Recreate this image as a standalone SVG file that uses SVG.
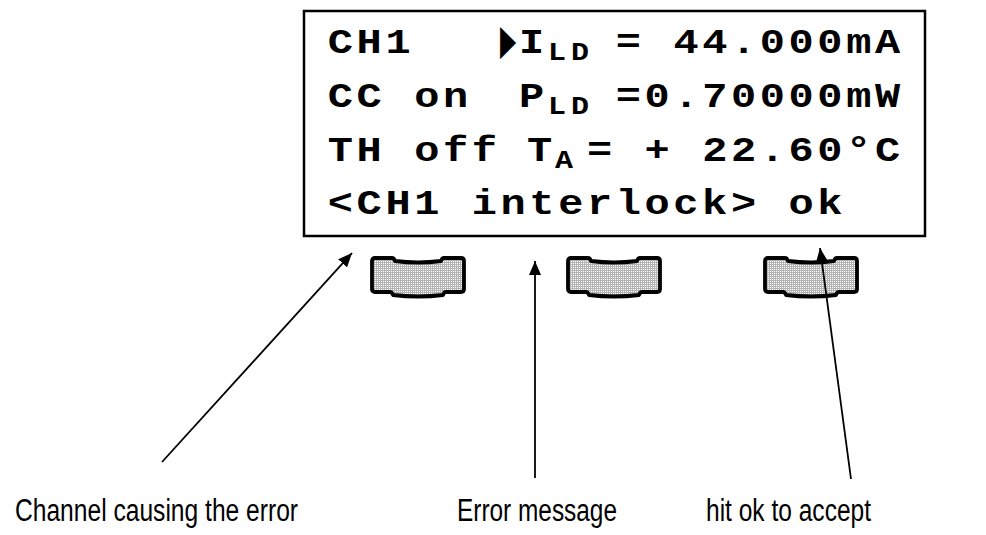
<svg xmlns="http://www.w3.org/2000/svg" width="986" height="535" viewBox="0 0 986 535">
<style>
.lcd{font-family:"Courier New","Liberation Mono",monospace;font-weight:bold;font-size:42px;letter-spacing:3.6px;fill:#000}
.sub{font-family:"Courier New","Liberation Mono",monospace;font-weight:bold;font-size:30px;letter-spacing:5px;fill:#000}
.lbl{font-family:"Liberation Sans",Arial,sans-serif;font-size:31px;fill:#000}
.conn{stroke:#000;stroke-width:1.8;fill:none}
.btn{fill:url(#dots);stroke:#000;stroke-width:3.8;stroke-linejoin:round}
</style>
<defs>
<pattern id="dots" width="2" height="2" patternUnits="userSpaceOnUse">
<rect width="2" height="2" fill="#b4b4b4"/>
<rect x="1" y="1" width="1" height="1" fill="#ffffff"/>
</pattern>
<path id="btnShape" d="M3,0 H20 Q22,0 23,3 Q46,6 69,3 Q70,0 72,0 H89 Q92,0 92,3 V31 Q92,34 89,34 H74 Q72,34 71,37 Q46,40 21,37 Q20,34 18,34 H3 Q0,34 0,31 V3 Q0,0 3,0 Z"/>
<marker id="ah" viewBox="0 0 14 12" refX="14" refY="6" markerWidth="14" markerHeight="12" markerUnits="userSpaceOnUse" orient="auto">
<path d="M0,0 L14,6 L0,12 Z" fill="#000"/>
</marker>
</defs>

<g id="display">
<rect x="304" y="11" width="621" height="225" fill="#fff" stroke="#000" stroke-width="2.5"/>
<g transform="translate(0,53) scale(1,0.83)">
<text class="lcd" x="327.8" y="0">CH1</text>
<text class="lcd" x="519" y="0">I</text>
<text class="sub" x="548" y="8">LD</text>
<text class="lcd" x="615.8" y="0" xml:space="preserve">= 44.000mA</text>
</g>
<text transform="translate(500,54) scale(0.5,1)" font-family="DejaVu Sans,sans-serif" font-size="42">▶</text>

<g transform="translate(0,107) scale(1,0.83)">
<text class="lcd" x="327.8" y="0">CC on</text>
<text class="lcd" x="519" y="0">P</text>
<text class="sub" x="548" y="8">LD</text>
<text class="lcd" x="615.8" y="0">=0.70000mW</text>
</g>

<g transform="translate(0,161) scale(1,0.83)">
<text class="lcd" x="327.8" y="0">TH off</text>
<text class="lcd" x="527" y="0">T</text>
<text class="sub" x="555" y="8">A</text>
<text class="lcd" x="587" y="0" xml:space="preserve">= + 22.60°C</text>
</g>

<g transform="translate(0,214) scale(1,0.83)">
<text class="lcd" x="327.8" y="0">&lt;CH1 interlock&gt; ok</text>
</g>
</g>

<g id="button1"><use href="#btnShape" class="btn" transform="translate(372,258)"/></g>
<g id="button2"><use href="#btnShape" class="btn" transform="translate(568,258)"/></g>
<g id="button3"><use href="#btnShape" class="btn" transform="translate(765,258)"/></g>

<g id="label-channel"><text class="lbl" x="15" y="521" textLength="283" lengthAdjust="spacingAndGlyphs">Channel causing the error</text></g>
<g id="label-error"><text class="lbl" x="457" y="521" textLength="160" lengthAdjust="spacingAndGlyphs">Error message</text></g>
<g id="label-ok"><text class="lbl" x="706" y="521" textLength="165" lengthAdjust="spacingAndGlyphs">hit ok to accept</text></g>

<g id="connectors">
<line class="conn" x1="162" y1="462" x2="352" y2="253" marker-end="url(#ah)"/>
<line class="conn" x1="535" y1="478" x2="535" y2="261" marker-end="url(#ah)"/>
<line class="conn" x1="851" y1="479" x2="820" y2="248" marker-end="url(#ah)"/>
</g>
</svg>
